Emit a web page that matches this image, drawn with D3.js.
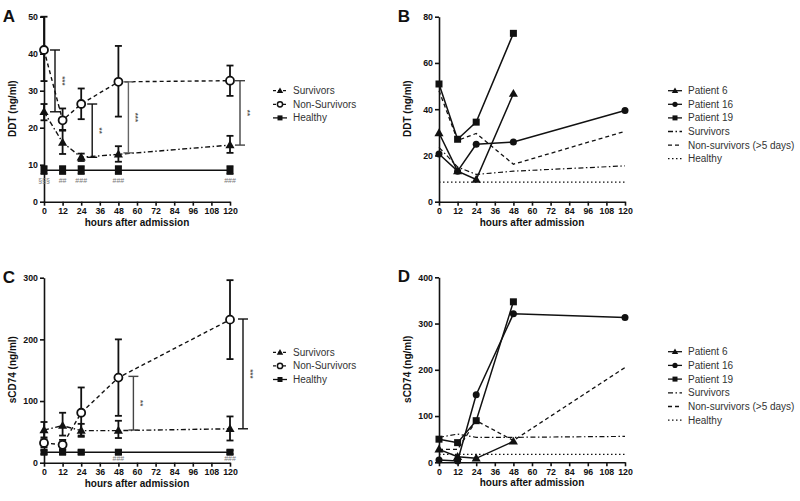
<!DOCTYPE html>
<html><head><meta charset="utf-8">
<script src="https://cdn.jsdelivr.net/npm/d3@7"></script>
<style>body{margin:0;background:#fff}svg{display:block}text{font-family:"Liberation Sans",Arial,sans-serif}</style>
</head><body><svg id="c" width="800" height="501"></svg>
<script>
// ---------- data ----------
const hours = [0, 12, 24, 48, 120];
const hoursShort = [0, 12, 24, 48];
const xTicks = [0, 12, 24, 36, 48, 60, 72, 84, 96, 108, 120];
const xTitle = "hours after admission";

// Panel A (DDT, group means with error bars)
const ddtTicks = [0, 10, 20, 30, 40, 50];
const ddtSurv = [24.3, 16, 12, 12.8, 15.3];
const ddtSurvLo = [22, 12.9, 11, 10.8, 13.2];
const ddtSurvHi = [26.4, 19.4, 13, 15, 17.8];
const ddtNon = [41, 22, 26.4, 32.4, 32.7];
const ddtNonLo = [32.6, 19.2, 22.3, 23, 28.6];
const ddtNonHi = [50, 25.2, 30.6, 42.1, 36.8];
const ddtHealthy = [8.5, 8.5, 8.5, 8.5, 8.5];
const ddtHealthyLo = [7.5, 7.5, 7.5, 7.5, 7.5];
const ddtHealthyHi = [9.6, 9.6, 9.6, 9.6, 9.6];
const ddtSigHours = [0, 24, 48, 120];
const ddtSigTop = [41, 26.4, 32.4, 32.7];
const ddtSigBottom = [24.3, 12, 13.2, 15.3];
const ddtSigLabels = ["***", "**", "***", "**"];
const ddtHashLabels = ["§§§", "##", "###", "###", "###"];

// Panel B (DDT, individual patients)
const ddtB_ticks = [0, 20, 40, 60, 80];
const ddtP6 = [29.7, 13.2, 9.6, 46.7];
const ddtP16 = [20.6, 13.2, 24.8, 25.8, 39.4];
const ddtP19 = [50.9, 27, 34.4, 72.8];
const ddtB_surv = [23.5, 15, 11.8, 13.2, 15.5];
const ddtB_non5 = [48, 26.5, 29.5, 16.2, 30.4];
const ddtB_healthy = [8.5, 8.5, 8.5, 8.5, 8.5];

// Panel C (sCD74, group means)
const cdTicks = [0, 100, 200, 300];
const cdSurv = [53, 60, 52, 52, 55];
const cdSurvLo = [41, 44, 44, 40, 36];
const cdSurvHi = [66, 81, 63, 68, 75];
const cdNon = [32, 29, 81, 138, 232];
const cdNonLo = [25, 22, 42, 76, 168];
const cdNonHi = [38, 37, 122, 200, 296];
const cdHealthy = [17, 17, 17, 17, 17];
const cdHealthyLo = [14, 14, 14, 14, 14];
const cdHealthyHi = [20, 20, 20, 20, 20];
const cdSigHours = [48, 120];
const cdSigTop = [140, 233];
const cdSigBottom = [53, 55];
const cdSigLabels = ["**", "***"];
const cdHashLabels = ["", "", "", "###", "###"];

// Panel D (sCD74, individual patients)
const cdD_ticks = [0, 100, 200, 300, 400];
const cdP6 = [28, 12, 8.6, 45];
const cdP16 = [5, 3, 146, 321, 313];
const cdP19 = [50, 42.5, 90, 347];
const cdD_surv = [54, 61, 54, 54, 56];
const cdD_non5 = [28, 28, 90, 47, 205];
const cdD_healthy = [17, 17, 17, 17, 17];

const legendGroups = ["Survivors", "Non-Survivors", "Healthy"];
const legendPatients = ["Patient 6", "Patient 16", "Patient 19", "Survivors", "Non-survivors (>5 days)", "Healthy"];

// ---------- drawing ----------
const svg = d3.select("#c");
const INK = "#111";
const DASH_SURV = "5,2.5,1.5,2.5";
const DASH_NON = "4,3";
const DASH_HEALTHY = "1.5,2.5";

function panel(opt) {
  const x = d3.scaleLinear().domain([0, 120]).range([opt.left, opt.left + 186]);
  const y = d3.scaleLinear().domain([0, opt.ymax]).range([opt.bottom, opt.bottom - 185]);
  const g = svg.append("g");
  const ya = g.append("g").attr("transform", `translate(${opt.left},0)`)
    .call(d3.axisLeft(y).tickValues(opt.yticks).tickSize(4).tickSizeOuter(0).tickPadding(2));
  const xa = g.append("g").attr("transform", `translate(0,${opt.bottom})`)
    .call(d3.axisBottom(x).tickValues(xTicks).tickSize(4).tickSizeOuter(0).tickPadding(2));
  [ya, xa].forEach(a => {
    a.selectAll("path,line").attr("stroke", INK).attr("stroke-width", 1.6);
    a.selectAll("text").attr("fill", INK).style("font-size", "8.8px").style("font-weight", "bold");
  });
  g.append("text")
    .attr("transform", `translate(${opt.left - 28},${opt.bottom - 93}) rotate(-90)`)
    .attr("text-anchor", "middle").attr("fill", INK)
    .style("font-size", "10px").style("font-weight", "bold").text(opt.ylabel);
  g.append("text").attr("x", x(60)).attr("y", opt.bottom + 24)
    .attr("text-anchor", "middle").attr("fill", INK)
    .style("font-size", "10px").style("font-weight", "bold").text(xTitle);
  g.append("text").attr("x", opt.left - 35).attr("y", opt.bottom - 180)
    .attr("text-anchor", "middle").attr("fill", INK)
    .style("font-size", "17px").style("font-weight", "bold").text(opt.letter);
  return {g, x, y};
}

function line(p, xs, vals, dash, width) {
  p.g.append("path").datum(vals)
    .attr("d", d3.line().x((d, i) => p.x(xs[i])).y(d => p.y(d)))
    .attr("fill", "none").attr("stroke", INK).attr("stroke-width", width || 1.4)
    .attr("stroke-dasharray", dash || null);
}

function errBars(p, xs, lo, hi, color) {
  xs.forEach((h, i) => {
    const cx = p.x(h), y1 = p.y(hi[i]), y2 = p.y(lo[i]);
    p.g.append("line").attr("x1", cx).attr("x2", cx).attr("y1", y1).attr("y2", y2)
      .attr("stroke", color || INK).attr("stroke-width", 1.8);
    [y1, y2].forEach(yy => p.g.append("line").attr("x1", cx - 3.5).attr("x2", cx + 3.5)
      .attr("y1", yy).attr("y2", yy).attr("stroke", color || INK).attr("stroke-width", 1.8));
  });
}

function marker(g, type, cx, cy, big) {
  if (type === "tri") {
    g.append("path").attr("d", d3.symbol(d3.symbolTriangle, big ? 36 : 18)())
      .attr("transform", `translate(${cx},${cy + 0.5})`).attr("fill", INK);
  } else if (type === "ocirc") {
    g.append("circle").attr("cx", cx).attr("cy", cy).attr("r", big ? 4 : 2.6)
      .attr("fill", "#fff").attr("stroke", INK).attr("stroke-width", big ? 1.8 : 1.5);
  } else if (type === "circ") {
    g.append("circle").attr("cx", cx).attr("cy", cy).attr("r", big ? 3.5 : 2.6)
      .attr("fill", INK);
  } else if (type === "sq") {
    const s = big ? 7 : 5;
    g.append("rect").attr("x", cx - s / 2).attr("y", cy - s / 2).attr("width", s).attr("height", s)
      .attr("fill", INK);
  }
}

function markers(p, xs, vals, type, big) {
  vals.forEach((v, i) => marker(p.g, type, p.x(xs[i]), p.y(v), big));
}

function sig(p, hrs, top, bot, labels, color, offset) {
  hrs.forEach((h, i) => {
    const cx = p.x(h) + offset[i], y1 = p.y(top[i]), y2 = p.y(bot[i]);
    const c = color[i];
    p.g.append("line").attr("x1", cx).attr("x2", cx).attr("y1", y1).attr("y2", y2)
      .attr("stroke", c).attr("stroke-width", 1.4);
    [y1, y2].forEach(yy => p.g.append("line").attr("x1", cx - 5).attr("x2", cx + 5)
      .attr("y1", yy).attr("y2", yy).attr("stroke", c).attr("stroke-width", 1.4));
    p.g.append("text").attr("transform", `translate(${cx + 5},${(y1 + y2) / 2}) rotate(90)`)
      .attr("text-anchor", "middle").attr("fill", "#555")
      .style("font-size", "8px").style("font-weight", "bold").text(labels[i]);
  });
}

function hashes(p, xs, vals, labels, dy) {
  labels.forEach((t, i) => {
    if (!t) return;
    p.g.append("text").attr("x", p.x(xs[i])).attr("y", p.y(vals[i]) + dy)
      .attr("text-anchor", "middle").attr("fill", "#777")
      .style("font-size", "7px").text(t);
  });
}

function legend(x0, y0, step, items) {
  const g = svg.append("g");
  items.forEach((it, i) => {
    const yy = y0 + i * step;
    g.append("line").attr("x1", x0).attr("x2", x0 + 14).attr("y1", yy).attr("y2", yy)
      .attr("stroke", INK).attr("stroke-width", 1.3).attr("stroke-dasharray", it.dash || null);
    if (it.marker) marker(g, it.marker, x0 + 7, yy, false);
    g.append("text").attr("x", x0 + 20).attr("y", yy + 3.5).attr("fill", "#333")
      .style("font-size", "10px").text(it.label);
  });
}

// ----- Panel A -----
const A = panel({left: 44, bottom: 201.7, ymax: 50, yticks: ddtTicks, ylabel: "DDT (ng/ml)", letter: "A"});
line(A, hours, ddtSurv, DASH_SURV);
line(A, hours, ddtNon, DASH_NON);
line(A, hours, ddtHealthy, null, 1.6);
errBars(A, hours, ddtNonLo, ddtNonHi);
errBars(A, hours, ddtSurvLo, ddtSurvHi);
errBars(A, hours, ddtHealthyLo, ddtHealthyHi);
markers(A, hours, ddtHealthy, "sq", true);
markers(A, hours, ddtSurv, "tri", true);
markers(A, hours, ddtNon, "ocirc", true);
sig(A, ddtSigHours, ddtSigTop, ddtSigBottom, ddtSigLabels, [INK, INK, "#666", "#444"], [11, 11, 10, 10]);
hashes(A, hours, ddtHealthy, ddtHashLabels, 13);
legend(273, 90.7, 13.6, [
  {label: legendGroups[0], marker: "tri", dash: "3,2"},
  {label: legendGroups[1], marker: "ocirc", dash: "3,2"},
  {label: legendGroups[2], marker: "sq"}
]);

// ----- Panel B -----
const B = panel({left: 439, bottom: 201.7, ymax: 80, yticks: ddtB_ticks, ylabel: "DDT (ng/ml)", letter: "B"});
line(B, hours, ddtB_healthy, DASH_HEALTHY, 1.2);
line(B, hours, ddtB_surv, DASH_SURV, 1.2);
line(B, hours, ddtB_non5, DASH_NON, 1.3);
line(B, hoursShort, ddtP6, null, 1.5);
line(B, hours, ddtP16, null, 1.5);
line(B, hoursShort, ddtP19, null, 1.5);
markers(B, hoursShort, ddtP6, "tri", true);
markers(B, hours, ddtP16, "circ", true);
markers(B, hoursShort, ddtP19, "sq", true);
legend(668, 90.7, 13.6, [
  {label: legendPatients[0], marker: "tri"},
  {label: legendPatients[1], marker: "circ"},
  {label: legendPatients[2], marker: "sq"},
  {label: legendPatients[3], dash: DASH_SURV},
  {label: legendPatients[4], dash: DASH_NON},
  {label: legendPatients[5], dash: DASH_HEALTHY}
]);

// ----- Panel C -----
const C = panel({left: 44, bottom: 462.7, ymax: 300, yticks: cdTicks, ylabel: "sCD74 (ng/ml)", letter: "C"});
line(C, hours, cdSurv, DASH_SURV);
line(C, hours, cdNon, DASH_NON);
line(C, hours, cdHealthy, null, 1.6);
errBars(C, hours, cdNonLo, cdNonHi);
errBars(C, hours, cdSurvLo, cdSurvHi);
errBars(C, hours, cdHealthyLo, cdHealthyHi);
markers(C, hours, cdHealthy, "sq", true);
markers(C, hours, cdSurv, "tri", true);
markers(C, hours, cdNon, "ocirc", true);
sig(C, cdSigHours, cdSigTop, cdSigBottom, cdSigLabels, ["#444", INK], [15, 13]);
hashes(C, hours, cdHealthy, cdHashLabels, 8.5);
legend(273, 352.3, 13.6, [
  {label: legendGroups[0], marker: "tri", dash: "3,2"},
  {label: legendGroups[1], marker: "ocirc", dash: "3,2"},
  {label: legendGroups[2], marker: "sq"}
]);

// ----- Panel D -----
const D = panel({left: 439, bottom: 462.3, ymax: 400, yticks: cdD_ticks, ylabel: "sCD74 (ng/ml)", letter: "D"});
line(D, hours, cdD_healthy, DASH_HEALTHY, 1.2);
line(D, hours, cdD_surv, DASH_SURV, 1.2);
line(D, hours, cdD_non5, DASH_NON, 1.3);
line(D, hoursShort, cdP6, null, 1.5);
line(D, hours, cdP16, null, 1.5);
line(D, hoursShort, cdP19, null, 1.5);
markers(D, hoursShort, cdP6, "tri", true);
markers(D, hours, cdP16, "circ", true);
markers(D, hoursShort, cdP19, "sq", true);
legend(668, 351.7, 13.7, [
  {label: legendPatients[0], marker: "tri"},
  {label: legendPatients[1], marker: "circ"},
  {label: legendPatients[2], marker: "sq"},
  {label: legendPatients[3], dash: DASH_SURV},
  {label: legendPatients[4], dash: DASH_NON},
  {label: legendPatients[5], dash: DASH_HEALTHY}
]);
</script></body></html>
